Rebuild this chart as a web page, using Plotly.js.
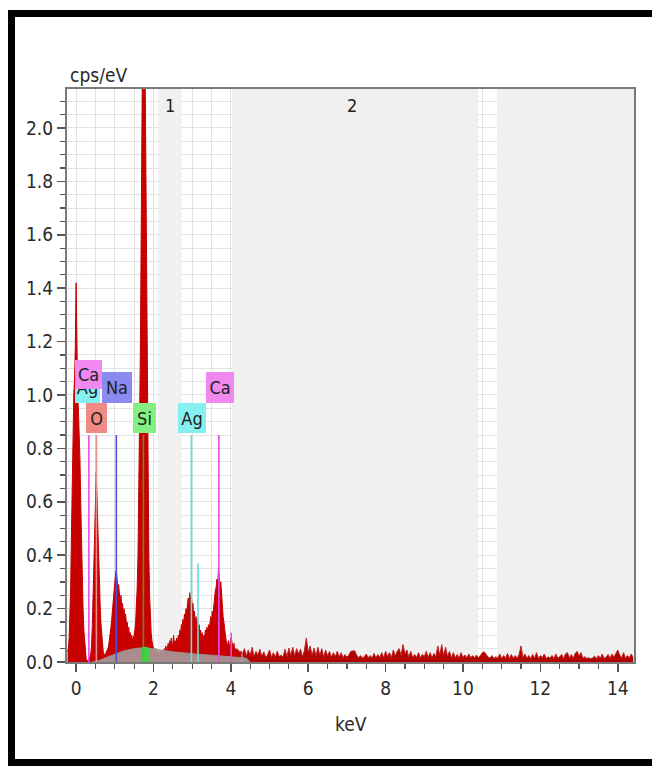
<!DOCTYPE html>
<html>
<head>
<meta charset="utf-8">
<script src="https://cdn.plot.ly/plotly-3.0.1.min.js"></script>
<style>
  html, body { margin: 0; padding: 0; background: #fff; overflow: hidden; width: 652px; height: 766px; }
  .bar { position: absolute; background: #000; }
  #barTop { left: 8px; top: 10px; width: 644px; height: 7px; }
  #barLeft { left: 8px; top: 10px; width: 7px; height: 756px; }
  #barBottom { left: 8px; top: 759px; width: 644px; height: 7px; }
  #chart { position: absolute; left: 0; top: 0; width: 652px; height: 766px; }
</style>
</head>
<body>
<div class="bar" id="barTop"></div>
<div class="bar" id="barLeft"></div>
<div class="bar" id="barBottom"></div>
<div id="chart"></div>
<script>
// ---- Spectrum counts (cps/eV) ----
// low-energy part: channels from -0.22 keV, step 0.02 keV
const lowStart = -0.22, lowStep = 0.02;
const lowCounts = [
  0.04, 0.05, 0.09, 0.16, 0.28, 0.48, 0.72, 0.90, 1.00, 1.06,
  1.18, 1.42, 1.16, 1.02, 0.94, 0.86, 0.76, 0.60, 0.44, 0.30,
  0.20, 0.12, 0.07, 0.03, 0.012, 0.006, 0.005, 0.008, 0.012, 0.02,
  0.03, 0.06, 0.14, 0.28, 0.42, 0.55, 0.63, 0.71, 0.62, 0.50,
  0.40, 0.30, 0.22, 0.15, 0.10, 0.06, 0.04, 0.03, 0.025, 0.03,
  0.035, 0.04, 0.05, 0.06, 0.08, 0.10, 0.13, 0.16, 0.20, 0.24,
  0.28, 0.31, 0.33, 0.345, 0.30, 0.27, 0.29, 0.24, 0.22, 0.25,
  0.20, 0.22, 0.18, 0.20, 0.16, 0.18, 0.14, 0.15, 0.12, 0.13,
  0.10, 0.11, 0.09, 0.10, 0.08, 0.09, 0.10, 0.12, 0.15, 0.22,
  0.28, 0.40, 0.60, 0.85, 1.15, 1.55, 1.95, 2.40, 2.80, 2.70,
  2.30, 1.85, 1.35, 0.95, 0.62, 0.40, 0.25, 0.16, 0.11, 0.08,
  0.06, 0.05, 0.045, 0.04, 0.05, 0.035, 0.03, 0.04, 0.03, 0.035,
  0.03, 0.045, 0.03, 0.04, 0.035, 0.05, 0.04, 0.06, 0.04, 0.05,
  0.07, 0.05, 0.08, 0.06, 0.09, 0.07, 0.06, 0.10, 0.07, 0.08,
  0.06, 0.09, 0.07, 0.10, 0.08, 0.12, 0.10, 0.14, 0.13, 0.16,
  0.14, 0.18, 0.16, 0.20, 0.18, 0.22, 0.24, 0.21, 0.26, 0.23,
  0.25, 0.20, 0.22, 0.17, 0.19, 0.14, 0.17, 0.13, 0.16, 0.12,
  0.14, 0.10, 0.12, 0.09, 0.11, 0.08, 0.10, 0.09, 0.12, 0.10,
  0.13, 0.11, 0.14, 0.12, 0.15, 0.17, 0.15, 0.19, 0.18, 0.22,
  0.24, 0.27, 0.28, 0.31, 0.29, 0.35, 0.32, 0.28, 0.30, 0.24,
  0.22, 0.17, 0.15, 0.11, 0.10, 0.08, 0.07, 0.06, 0.08, 0.06,
  0.07, 0.09, 0.08, 0.06, 0.05, 0.07, 0.04, 0.05, 0.04, 0.05,
  0.035, 0.045, 0.03, 0.04, 0.035, 0.04
];
// high-energy part: channels from 4.30 keV, step 0.05 keV
const highStart = 4.30, highStep = 0.05;
const highCounts = [
  0.030, 0.050, 0.022, 0.045, 0.024, 0.055, 0.020, 0.040, 0.024, 0.048,
  0.020, 0.038, 0.018, 0.026, 0.045, 0.018, 0.035, 0.018, 0.040, 0.020,
  0.026, 0.018, 0.048, 0.020, 0.052, 0.024, 0.055, 0.022, 0.050, 0.030,
  0.048, 0.020, 0.042, 0.090, 0.036, 0.060, 0.024, 0.052, 0.022, 0.055,
  0.024, 0.050, 0.018, 0.045, 0.022, 0.040, 0.018, 0.035, 0.020, 0.040,
  0.018, 0.035, 0.016, 0.028, 0.018, 0.026, 0.040, 0.042, 0.042, 0.026,
  0.016, 0.024, 0.015, 0.020, 0.030, 0.016, 0.024, 0.015, 0.032, 0.016,
  0.028, 0.017, 0.035, 0.016, 0.040, 0.020, 0.035, 0.017, 0.045, 0.022,
  0.040, 0.050, 0.024, 0.065, 0.030, 0.045, 0.018, 0.040, 0.016, 0.028,
  0.017, 0.035, 0.016, 0.028, 0.020, 0.040, 0.017, 0.035, 0.016, 0.032,
  0.020, 0.060, 0.024, 0.065, 0.022, 0.055, 0.020, 0.040, 0.016, 0.035,
  0.016, 0.028, 0.015, 0.035, 0.017, 0.026, 0.015, 0.030, 0.016, 0.024,
  0.015, 0.026, 0.016, 0.024, 0.035, 0.038, 0.030, 0.018, 0.015, 0.024,
  0.013, 0.020, 0.014, 0.030, 0.013, 0.024, 0.014, 0.032, 0.013, 0.028,
  0.014, 0.024, 0.013, 0.028, 0.060, 0.016, 0.030, 0.014, 0.024, 0.013,
  0.028, 0.014, 0.035, 0.013, 0.024, 0.016, 0.030, 0.013, 0.020, 0.014,
  0.024, 0.013, 0.030, 0.014, 0.020, 0.028, 0.013, 0.030, 0.035, 0.016,
  0.028, 0.014, 0.032, 0.040, 0.022, 0.035, 0.014, 0.020, 0.013, 0.016,
  0.012, 0.015, 0.022, 0.013, 0.024, 0.014, 0.030, 0.013, 0.018, 0.028,
  0.014, 0.030, 0.018, 0.035, 0.045, 0.026, 0.016, 0.035, 0.014, 0.024,
  0.016, 0.030, 0.015
];
// fitted background (gray) and Si deconvolution patch (green)
const bgEnergy = [0.40, 0.60, 0.80, 1.00, 1.20, 1.40, 1.60, 1.80, 2.00, 2.20, 2.50, 3.00, 3.50, 4.00, 4.40, 4.50];
const bgCounts = [0.0, 0.006, 0.018, 0.030, 0.040, 0.047, 0.052, 0.053, 0.049, 0.044, 0.038, 0.031, 0.025, 0.020, 0.015, 0.0];
const siPatchEnergy = [1.69, 1.70, 1.80, 1.90, 1.91];
const siPatchCounts = [0.0, 0.055, 0.057, 0.052, 0.0];

// element marker lines
const markerElement = ['Ca', 'O', 'Na', 'Si', 'Ag', 'Ag', 'Ca', 'Ca'];
const markerEnergy  = [0.33, 0.525, 1.04, 1.74, 2.98, 3.15, 3.69, 4.01];
const markerHeight  = [0.85, 0.85, 0.85, 0.85, 0.85, 0.37, 0.85, 0.11];

// element label boxes (draw order)
const labelText = ['Ag', 'Ca', 'Na', 'Ca', 'O', 'Si', 'Ag'];

// ROI bands and their labels
const bandStart = [2.12, 4.03, 10.88];
const bandEnd   = [2.73, 10.39, 14.60];
const regionLabels = ['1', '2'];
const regionCenters = [2.42, 7.13];

// tick labels
const xTicks = [0, 2, 4, 6, 8, 10, 12, 14];
const yTicks = [0.0, 0.2, 0.4, 0.6, 0.8, 1.0, 1.2, 1.4, 1.6, 1.8, 2.0];

// ---- styles ----
const FONT = 'Liberation Sans Narrow, DejaVu Sans Condensed, Arial Narrow, sans-serif';
const elemLine = { Ca: '#e84ce8', O: '#f08a8a', Na: '#4d4de0', Si: 'rgba(60,200,60,0.7)', Ag: '#5fe0e0' };
const elemBox  = { Ca: '#f088f0', O: '#f08a84', Na: '#8a8af0', Si: '#84f084', Ag: '#84f0f0' };

const traces = [];
// gray ROI bands (drawn as the first traces so they cover the grid)
bandStart.forEach((s, i) => {
  traces.push({ type: 'scatter', mode: 'lines', x: [s, bandEnd[i], bandEnd[i], s, s], y: [-1, -1, 5, 5, -1],
    fill: 'toself', fillcolor: '#f0f0f0', line: { width: 0, color: '#f0f0f0' }, hoverinfo: 'skip' });
});
traces.push({ type: 'scatter', mode: 'lines', x0: lowStart, dx: lowStep, y: lowCounts,
  line: { color: '#c40000', width: 1 }, fill: 'tozeroy', fillcolor: '#c80000', hoverinfo: 'skip' });
traces.push({ type: 'scatter', mode: 'lines', x0: highStart, dx: highStep, y: highCounts,
  line: { color: '#c42020', width: 1 }, fill: 'tozeroy', fillcolor: '#b00000', hoverinfo: 'skip' });
traces.push({ type: 'scatter', mode: 'lines', x: bgEnergy, y: bgCounts,
  line: { color: 'rgba(150,150,150,0.9)', width: 1 }, fill: 'tozeroy', fillcolor: 'rgba(165,165,165,0.85)', hoverinfo: 'skip' });
traces.push({ type: 'scatter', mode: 'lines', x: siPatchEnergy, y: siPatchCounts,
  line: { color: '#44d044', width: 0 }, fill: 'tozeroy', fillcolor: '#44d044', hoverinfo: 'skip' });
markerElement.forEach((el, i) => {
  traces.push({ type: 'scatter', mode: 'lines', x: [markerEnergy[i], markerEnergy[i]], y: [0, markerHeight[i]],
    line: { color: elemLine[el], width: 1.6 }, hoverinfo: 'skip' });
});

// label box placement (keV centre, cps/eV centre, width px, height px)
const boxPlace = [
  [0.29, 1.028, 25, 31],
  [0.31, 1.077, 27, 29],
  [1.052, 1.028, 30, 31],
  [3.716, 1.028, 28, 31],
  [0.522, 0.914, 21, 30],
  [1.764, 0.914, 23, 30],
  [2.992, 0.914, 28, 30]
];
const annotations = labelText.map((t, i) => ({
  x: boxPlace[i][0], y: boxPlace[i][1], xref: 'x', yref: 'y', text: t, showarrow: false,
  xanchor: 'center', yanchor: 'middle', width: boxPlace[i][2], height: boxPlace[i][3],
  bgcolor: elemBox[t], borderpad: 0, borderwidth: 0,
  font: { family: FONT, size: 18, color: '#222' }
}));
regionLabels.forEach((t, i) => annotations.push({
  x: regionCenters[i], y: 2.085, xref: 'x', yref: 'y', text: t, showarrow: false,
  font: { family: FONT, size: 18, color: '#222' }
}));
annotations.push({ x: 0.002, y: 1.024, xref: 'paper', yref: 'paper', xanchor: 'left', yanchor: 'middle',
  text: 'cps/eV', showarrow: false, font: { family: FONT, size: 19, color: '#2a2a2a' } });
annotations.push({ x: 0.5, y: -0.108, xref: 'paper', yref: 'paper', xanchor: 'center', yanchor: 'middle',
  text: 'keV', showarrow: false, font: { family: FONT, size: 19, color: '#2a2a2a' } });

const axisCommon = {
  ticks: 'outside', ticklen: 8, tickwidth: 1.5, tickcolor: '#555',
  showline: true, linecolor: '#7a7a7a', linewidth: 2, mirror: true,
  showgrid: true, gridcolor: '#e2e2e2', gridwidth: 1, zeroline: false,
  tickfont: { family: FONT, size: 19, color: '#2a2a2a' }
};

const layout = {
  width: 652, height: 766,
  margin: { l: 67, r: 18, t: 89, b: 104 },
  paper_bgcolor: 'rgba(0,0,0,0)', plot_bgcolor: '#ffffff',
  showlegend: false,
  xaxis: Object.assign({}, axisCommon, {
    range: [-0.235, 14.42], tickvals: xTicks, ticktext: xTicks.map(String),
    minor: { dtick: 0.5, tick0: 0, ticks: 'outside', ticklen: 5, tickwidth: 1.2, tickcolor: '#555', showgrid: true, gridcolor: '#e2e2e2' }
  }),
  yaxis: Object.assign({}, axisCommon, {
    range: [0, 2.146], tickvals: yTicks, ticktext: yTicks.map(v => v.toFixed(1)),
    minor: { dtick: 0.05, tick0: 0, ticks: 'outside', ticklen: 5, tickwidth: 1.2, tickcolor: '#555', showgrid: true, gridcolor: '#e2e2e2' }
  }),
  annotations: annotations
};

Plotly.newPlot('chart', traces, layout, { staticPlot: true, displayModeBar: false });
</script>
</body>
</html>
